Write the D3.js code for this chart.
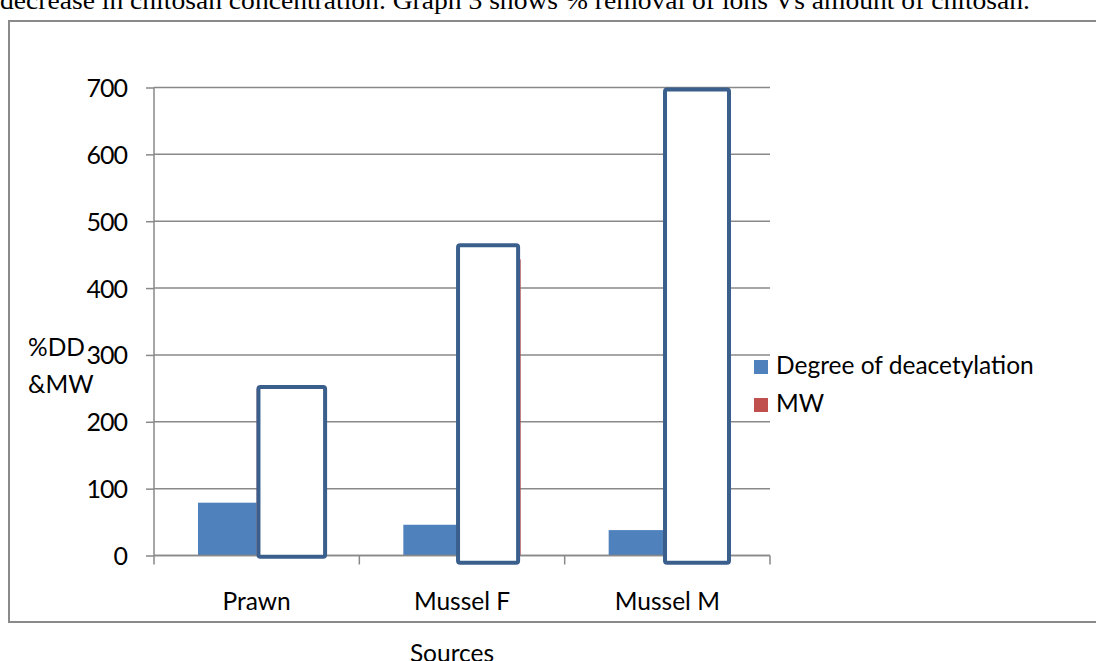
<!DOCTYPE html>
<html>
<head>
<meta charset="utf-8">
<script src="https://cdn.jsdelivr.net/npm/d3@7"></script>
<style>
  html, body { margin: 0; padding: 0; background: #fff; }
  svg { display: block; }
</style>
</head>
<body>
<svg id="chart" width="1096" height="661"></svg>
<script>
// ---- data ----
const categories = ["Prawn", "Mussel F", "Mussel M"];
const seriesNames = ["Degree of deacetylation", "MW"];
const degreeOfDeacetylation = [79, 46, 38];
const mwValues = [250, 443, 690];
const yTicks = [0, 100, 200, 300, 400, 500, 600, 700];
// white annotation boxes drawn over the MW bars (category units / value units)
const boxLeft = [0.499, 1.471, 2.479];
const boxRight = [0.843, 1.783, 2.81];
const boxTop = [255, 467, 700];
const boxBottom = [-5, -14, -14];
const headerText = "decrease in chitosan concentration. Graph 3 shows % removal of ions Vs amount of chitosan.";
const yTitle = ["%DD", "&MW"];
const xTitle = "Sources";

// ---- layout ----
const svg = d3.select("#chart");
const W = 1096, H = 661;
const plot = { left: 154, right: 770, top: 87.5, bottom: 555.5 };
const colors = ["#4F81BD", "#C0504D"];
const gridColor = "#898989";
const font = "Lato, 'Open Sans', sans-serif";
const fs = 24.5;

const y = d3.scaleLinear().domain([0, 700]).range([plot.bottom, plot.top]);
const x0 = d3.scaleBand().domain(categories).range([plot.left, plot.right]).paddingInner(0).paddingOuter(0);
const gap = 1.5; // Excel gap width 150%
const barW = x0.bandwidth() / (seriesNames.length + gap);
const x1 = d3.scaleBand().domain(seriesNames)
  .range([(x0.bandwidth() - barW * 2) / 2, (x0.bandwidth() + barW * 2) / 2]);
const xLin = d3.scaleLinear().domain([0, categories.length]).range([plot.left, plot.right]);

// header text (cut off at top)
svg.append("text")
  .attr("x", 0).attr("y", 9)
  .attr("font-family", "'Liberation Serif', 'Times New Roman', serif")
  .attr("font-size", 25)
  .attr("textLength", 1030).attr("lengthAdjust", "spacingAndGlyphs")
  .attr("fill", "#000")
  .text(headerText);

// outer border
svg.append("path")
  .attr("d", `M${W + 5},21 H9 V622 H${W + 5}`)
  .attr("fill", "none").attr("stroke", "#8a8a8a").attr("stroke-width", 2);

// gridlines
svg.append("g").selectAll("line").data(yTicks).join("line")
  .attr("x1", plot.left).attr("x2", plot.right)
  .attr("y1", d => y(d)).attr("y2", d => y(d))
  .attr("stroke", gridColor).attr("stroke-width", 1.5);

// y axis
const yAxis = svg.append("g").attr("transform", `translate(${plot.left},0)`)
  .call(d3.axisLeft(y).tickValues(yTicks).tickSize(8).tickPadding(19).tickFormat(d3.format("d")));
yAxis.select(".domain").attr("stroke", gridColor).attr("stroke-width", 1.5)
  .attr("d", `M0,${plot.top}V${plot.bottom}`);
yAxis.selectAll(".tick line").attr("stroke", gridColor).attr("stroke-width", 1.5);
yAxis.selectAll(".tick text").attr("font-family", font).attr("font-size", 25)
  .attr("letter-spacing", -1).attr("fill", "#000").attr("dy", "0.36em");

// bars
const groups = svg.append("g").selectAll("g").data(categories).join("g")
  .attr("transform", d => `translate(${x0(d)},0)`);
groups.selectAll("rect").data((d, i) => [
    { s: seriesNames[0], v: degreeOfDeacetylation[i] },
    { s: seriesNames[1], v: mwValues[i] }
  ]).join("rect")
  .attr("x", d => x1(d.s)).attr("width", x1.bandwidth())
  .attr("y", d => y(d.v)).attr("height", d => y(0) - y(d.v))
  .attr("fill", (d, i) => colors[i]);

// x axis line and boundary ticks
svg.append("line")
  .attr("x1", plot.left).attr("x2", plot.right)
  .attr("y1", y(0)).attr("y2", y(0))
  .attr("stroke", gridColor).attr("stroke-width", 1.5);
svg.append("g").selectAll("line").data(d3.range(categories.length + 1)).join("line")
  .attr("x1", d => xLin(d)).attr("x2", d => xLin(d))
  .attr("y1", y(0)).attr("y2", y(0) + 9)
  .attr("stroke", gridColor).attr("stroke-width", 1.5);

// annotation boxes
svg.append("g").selectAll("rect").data(categories).join("rect")
  .attr("x", (d, i) => xLin(boxLeft[i]) + 2)
  .attr("width", (d, i) => xLin(boxRight[i]) - xLin(boxLeft[i]) - 4)
  .attr("y", (d, i) => y(boxTop[i]) + 2)
  .attr("height", (d, i) => y(boxBottom[i]) - y(boxTop[i]) - 4)
  .attr("rx", 2)
  .attr("fill", "#fff").attr("stroke", "#3A5F8D").attr("stroke-width", 4);

// x labels
svg.append("g").selectAll("text").data(categories).join("text")
  .attr("x", d => x0(d) + x0.bandwidth() / 2).attr("y", 610)
  .attr("text-anchor", "middle")
  .attr("font-family", font).attr("font-size", fs).attr("fill", "#000")
  .text(d => d);

// y title
svg.append("g").selectAll("text").data(yTitle).join("text")
  .attr("x", 28).attr("y", (d, i) => 356 + i * 37)
  .attr("font-family", font).attr("font-size", fs).attr("fill", "#000")
  .text(d => d);

// x title
svg.append("text")
  .attr("x", 452).attr("y", 662).attr("text-anchor", "middle")
  .attr("font-family", font).attr("font-size", fs).attr("fill", "#000")
  .text(xTitle);

// legend
const leg = svg.append("g").selectAll("g").data(seriesNames).join("g")
  .attr("transform", (d, i) => `translate(754,${360 + i * 38})`);
leg.append("rect").attr("width", 14).attr("height", 14).attr("fill", (d, i) => colors[i]);
leg.append("text").attr("x", 22).attr("y", 14)
  .attr("font-family", font).attr("font-size", fs).attr("fill", "#000")
  .text(d => d);
</script>
</body>
</html>
